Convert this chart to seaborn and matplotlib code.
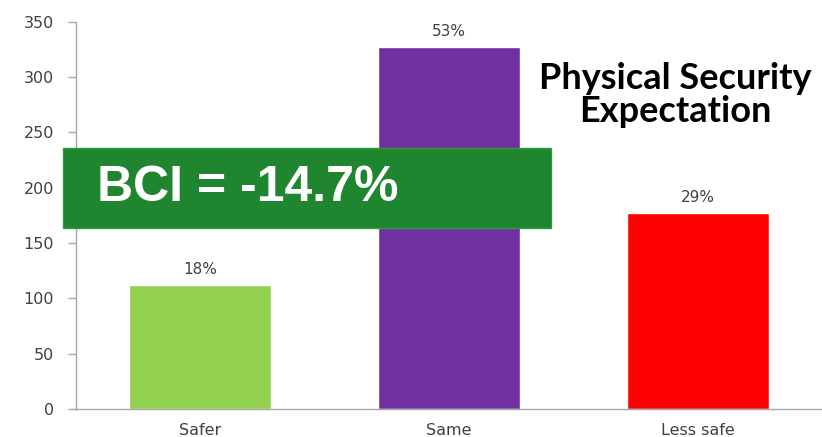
import matplotlib
matplotlib.use("Agg")
import matplotlib.pyplot as plt
import seaborn as sns
import pandas as pd
from matplotlib.patches import Rectangle
from matplotlib import font_manager as fm

categories = ["Safer", "Same", "Less safe"]
counts = [112, 327, 177]
shares = ["18%", "53%", "29%"]
bar_colors = ["#92D050", "#7030A0", "#FF0000"]
yticks = [0, 50, 100, 150, 200, 250, 300, 350]

sns.set_theme(style="white")
plt.rcParams["font.family"] = ["DejaVu Sans"]

# fixed font file for the axis and value labels
dejavu_path = fm.findfont(fm.FontProperties(family="DejaVu Sans"))
label_font = fm.FontProperties(fname=dejavu_path, size=11.5)
value_font = fm.FontProperties(fname=dejavu_path, size=11)

df = pd.DataFrame({"category": categories, "count": counts})

fig = plt.figure(figsize=(8.22, 4.37), dpi=100)
ax = fig.add_axes([0.0925, 0.064, 0.9075, 0.886])

sns.barplot(data=df, x="category", y="count", hue="category",
            palette=bar_colors, width=0.57, saturation=1, legend=False, ax=ax)

for patch, label in zip(ax.patches, shares):
    x = patch.get_x() + patch.get_width() / 2
    ax.annotate(label, (x, patch.get_height()), xytext=(0, 6),
                textcoords="offset points", ha="center", va="bottom",
                fontproperties=value_font, color="#404040")

ax.set_ylim(0, 350)
ax.set_xlim(-0.5, 2.5)
ax.set_yticks(yticks)
ax.set_xlabel("")
ax.set_ylabel("")
ax.tick_params(axis="y", left=True, length=6, width=1, color="#A6A6A6",
               labelcolor="#404040", pad=10)
ax.tick_params(axis="x", bottom=False, labelcolor="#404040", pad=4)
for lbl in ax.get_xticklabels() + ax.get_yticklabels():
    lbl.set_fontproperties(label_font)

for side in ["top", "right"]:
    ax.spines[side].set_visible(False)
for side in ["left", "bottom"]:
    ax.spines[side].set_color("#A6A6A6")
    ax.spines[side].set_linewidth(1)

fig.text(0.821, 0.783, "Physical Security\nExpectation", ha="center", va="center",
         fontsize=26, fontweight="bold", family=["Lato", "DejaVu Sans"],
         color="black", linespacing=0.98)

box = Rectangle((63 / 822, 1 - 228 / 437), (551 - 63) / 822, 80 / 437,
                transform=fig.transFigure, facecolor="#1F852F",
                edgecolor="#2E9A45", linewidth=1, zorder=5)
fig.add_artist(box)
fig.text(97 / 822, 1 - 188 / 437, "BCI = -14.7%", ha="left", va="center",
         fontsize=36, fontweight="bold", color="white", zorder=6,
         family=["Liberation Sans", "DejaVu Sans"])

fig.savefig("out.png", dpi=100)
